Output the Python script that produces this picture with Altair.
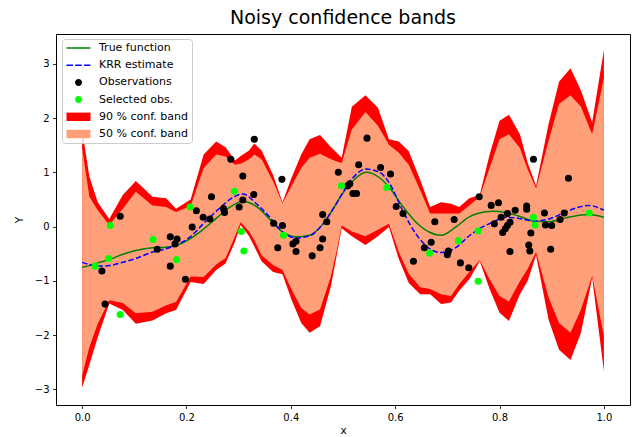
import altair as alt
import pandas as pd

# ---- true function and KRR estimate ----
line_x = [0.000, 0.014, 0.030, 0.052, 0.078, 0.103, 0.135, 0.161, 0.180, 0.206,
          0.231, 0.257, 0.282, 0.308, 0.334, 0.359, 0.384, 0.410, 0.436, 0.461,
          0.487, 0.495, 0.519, 0.544, 0.570, 0.589, 0.614, 0.640, 0.665, 0.688,
          0.716, 0.742, 0.758, 0.787, 0.812, 0.838, 0.867, 0.895, 0.927, 0.953,
          0.971, 1.000]
true_y = [-0.75, -0.72, -0.67, -0.61, -0.51, -0.44, -0.39, -0.38, -0.35, -0.23,
          -0.06, 0.15, 0.35, 0.46, 0.37, 0.14, -0.10, -0.19, -0.16, 0.04,
          0.42, 0.55, 0.84, 1.00, 0.90, 0.72, 0.38, 0.08, -0.10, -0.16,
          -0.01, 0.18, 0.24, 0.28, 0.26, 0.19, 0.10, 0.09, 0.16, 0.21,
          0.22, 0.17]
krr_y = [-0.66, -0.70, -0.73, -0.72, -0.66, -0.59, -0.47, -0.41, -0.34, -0.20,
         0.04, 0.28, 0.49, 0.60, 0.42, 0.18, -0.10, -0.21, -0.17, 0.04,
         0.42, 0.55, 0.90, 1.06, 1.00, 0.80, 0.30, -0.14, -0.40, -0.48,
         -0.39, -0.17, -0.06, 0.08, 0.17, 0.15, 0.10, 0.14, 0.27, 0.36,
         0.39, 0.30]

# ---- confidence bands ----
band_x = [0.000, 0.014, 0.030, 0.052, 0.078, 0.103, 0.135, 0.161, 0.180, 0.208,
          0.233, 0.257, 0.275, 0.293, 0.304, 0.320, 0.330, 0.344, 0.366, 0.384,
          0.401, 0.420, 0.436, 0.456, 0.477, 0.488, 0.4975, 0.517, 0.543, 0.567,
          0.588, 0.607, 0.626, 0.648, 0.667, 0.688, 0.707, 0.723, 0.742, 0.762,
          0.781, 0.800, 0.818, 0.839, 0.854, 0.870, 0.894, 0.914, 0.936, 0.956,
          0.9775, 1.000]
band90_hi = [1.79, 0.92, 0.45, 0.14, 0.58, 0.84, 0.55, 0.52, 0.33, 0.50,
             1.33, 1.57, 1.46, 1.22, 1.30, 1.40, 1.53, 1.40, 0.95, 0.45,
             0.89, 1.33, 1.61, 1.69, 1.46, 1.36, 1.27, 2.21, 2.42, 2.19,
             1.61, 1.57, 1.39, 0.86, 0.36, 0.45, 0.42, 0.36, 0.52, 0.58,
             1.33, 1.95, 2.06, 1.70, 1.17, 0.75, 1.89, 2.67, 2.92, 2.51,
             1.92, 3.26]
band50_hi = [1.45, 0.55, 0.30, 0.03, 0.33, 0.64, 0.39, 0.36, 0.27, 0.38,
             1.08, 1.33, 1.29, 1.14, 1.16, 1.24, 1.33, 1.24, 0.83, 0.43,
             0.74, 1.08, 1.27, 1.34, 1.24, 1.20, 1.17, 1.79, 2.11, 1.86,
             1.51, 1.36, 1.14, 0.67, 0.24, 0.24, 0.24, 0.24, 0.39, 0.55,
             1.08, 1.61, 1.70, 1.45, 1.05, 0.70, 1.58, 2.26, 2.42, 2.21,
             1.70, 2.74]
band50_lo = [-2.75, -2.22, -1.79, -1.36, -1.41, -1.60, -1.57, -1.45, -1.39, -0.92,
             -0.93, -0.70, -0.58, -0.18, 0.08, -0.09, -0.25, -0.53, -0.71, -0.80,
             -1.15, -1.50, -1.62, -1.53, -0.91, -0.44, 0.02, -0.09, -0.18, -0.06,
             0.05, -0.47, -0.87, -1.12, -1.15, -1.25, -1.28, -1.06, -0.84, -0.62,
             -0.97, -1.28, -1.38, -1.01, -0.78, -0.47, -1.31, -1.78, -1.96, -1.53,
             -0.91, -2.02]
band90_lo = [-2.97, -2.55, -2.04, -1.42, -1.54, -1.79, -1.73, -1.60, -1.54, -1.02,
             -1.06, -0.80, -0.68, -0.28, 0.03, -0.18, -0.37, -0.64, -0.84, -0.88,
             -1.34, -1.78, -1.96, -1.84, -1.09, -0.53, -0.03, -0.18, -0.34, -0.18,
             -0.01, -0.60, -1.04, -1.25, -1.25, -1.43, -1.40, -1.18, -0.97, -0.64,
             -1.15, -1.59, -1.74, -1.25, -1.00, -0.53, -1.72, -2.27, -2.46, -1.96,
             -0.95, -2.67]

# ---- observations ----
obs_x = [0.073, 0.169, 0.182, 0.178, 0.211, 0.219, 0.144, 0.038, 0.169, 0.198,
         0.044, 0.330, 0.285, 0.308, 0.383, 0.329, 0.248, 0.308, 0.301, 0.271,
         0.273, 0.232, 0.245, 0.367, 0.384, 0.375, 0.404, 0.410, 0.410, 0.441,
         0.456, 0.461, 0.461, 0.546, 0.491, 0.530, 0.572, 0.591, 0.513, 0.509,
         0.519, 0.526, 0.602, 0.615, 0.469, 0.676, 0.713, 0.669, 0.656, 0.702,
         0.700, 0.635, 0.725, 0.865, 0.932, 0.761, 0.784, 0.798, 0.852, 0.852,
         0.830, 0.815, 0.803, 0.886, 0.924, 0.916, 0.888, 0.900, 0.820, 0.815,
         0.811, 0.806, 0.790, 0.860, 0.856, 0.858, 0.898, 0.820, 0.741]
obs_y = [0.19, -0.19, -0.23, -0.32, -0.01, 0.29, -0.42, -0.82, -0.73, -0.97,
         -1.43, 1.61, 1.24, 0.93, 0.87, 0.59, 0.55, 0.49, 0.36, 0.33,
         0.26, 0.17, 0.14, 0.06, 0.02, -0.39, -0.32, -0.27, -0.46, -0.54,
         -0.39, -0.23, 0.22, 1.63, 1.00, 1.14, 1.09, 0.97, 0.79, 0.75,
         0.61, 0.61, 0.37, 0.24, 0.09, 0.09, 0.13, -0.29, -0.39, -0.45,
         -0.52, -0.64, -0.67, 1.24, 0.89, 0.55, 0.39, 0.44, 0.38, 0.32,
         0.30, 0.24, 0.17, 0.25, 0.25, 0.13, 0.03, 0.02, 0.08, 0.02,
         -0.04, -0.11, 0.05, -0.12, -0.34, -0.45, -0.42, -0.46, -0.76]
sel_x = [0.054, 0.136, 0.051, 0.025, 0.181, 0.073, 0.207, 0.292, 0.305, 0.310,
         0.386, 0.497, 0.584, 0.666, 0.721, 0.759, 0.865, 0.868, 0.972, 0.759]
sel_y = [0.02, -0.24, -0.59, -0.73, -0.61, -1.62, 0.36, 0.65, -0.09, -0.45,
         -0.16, 0.75, 0.72, -0.49, -0.26, -0.08, 0.17, 0.03, 0.25, -1.01]

# ---- legend ----
legend_labels = ["True function", "KRR estimate", "Observations",
                 "Selected obs.", "90 % conf. band", "50 % conf. band"]
legend_colors = ["#008000", "#0000ff", "#000000", "#00ff00", "#ff0000", "#ffa07a"]
legend_shapes = [
    "M-2.4,-0.15H2.4V0.15H-2.4Z",
    "M-2.4,-0.15H-1.1V0.15H-2.4ZM-0.65,-0.15H0.65V0.15H-0.65ZM1.1,-0.15H2.4V0.15H1.1Z",
    "M0.7,0A0.7,0.7,0,1,1,-0.7,0A0.7,0.7,0,1,1,0.7,0Z",
    "M0.7,0A0.7,0.7,0,1,1,-0.7,0A0.7,0.7,0,1,1,0.7,0Z",
    "M-2.4,-0.84H2.4V0.84H-2.4Z",
    "M-2.4,-0.84H2.4V0.84H-2.4Z",
]

line_df = pd.DataFrame({"x": line_x, "true": true_y, "krr": krr_y})
band_df = pd.DataFrame({"x": band_x, "r_hi": band90_hi, "r_lo": band90_lo,
                        "s_hi": band50_hi, "s_lo": band50_lo})
obs_df = pd.DataFrame({"x": obs_x, "y": obs_y})
sel_df = pd.DataFrame({"x": sel_x, "y": sel_y})
leg_df = pd.DataFrame({"series": legend_labels})

FONT = "DejaVu Sans"
xscale = alt.Scale(domain=[-0.05, 1.05], nice=False, zero=False)
yscale = alt.Scale(domain=[-3.29, 3.55], nice=False, zero=False)
xaxis = alt.Axis(title="x", values=[0, 0.2, 0.4, 0.6, 0.8, 1.0], format=".1f")
yaxis = alt.Axis(title="Y", values=[-3, -2, -1, 0, 1, 2, 3], format="d",
                 labelExpr="replace(datum.label, '-', '\u2212')")

X = alt.X("x:Q", scale=xscale, axis=xaxis)

bands = alt.Chart(band_df)
red = bands.mark_area(color="#ff0000", opacity=1, interpolate="linear").encode(
    x=X, y=alt.Y("r_lo:Q", scale=yscale, axis=yaxis), y2="r_hi:Q")
salmon = bands.mark_area(color="#ffa07a", opacity=1, interpolate="linear").encode(
    x=X, y=alt.Y("s_lo:Q", scale=yscale, axis=yaxis), y2="s_hi:Q")
lines = alt.Chart(line_df)
true_line = lines.mark_line(color="#008000", strokeWidth=1.5, interpolate="monotone").encode(
    x=X, y=alt.Y("true:Q", scale=yscale, axis=yaxis))
krr_line = lines.mark_line(color="#0000ff", strokeWidth=1.5, strokeDash=[5.5, 2.4],
                           interpolate="monotone").encode(
    x=X, y=alt.Y("krr:Q", scale=yscale, axis=yaxis))
obs = alt.Chart(obs_df).mark_circle(color="#000000", size=50, opacity=1).encode(
    x=X, y=alt.Y("y:Q", scale=yscale, axis=yaxis))
sel = alt.Chart(sel_df).mark_circle(color="#00ff00", size=50, opacity=1).encode(
    x=X, y=alt.Y("y:Q", scale=yscale, axis=yaxis))

legend_obj = alt.Legend(
    title=None, orient="none", direction="vertical", legendX=6, legendY=5,
    padding=3.5, symbolSize=100, symbolOffset=7.5, labelOffset=15, rowPadding=5.2,
    symbolStrokeWidth=0, symbolOpacity=1, labelFont=FONT, labelFontSize=11,
    labelColor="#000000", labelLimit=0, fillColor="rgba(255,255,255,0.8)",
    strokeColor="#cccccc", cornerRadius=3)

leg = alt.Chart(leg_df).transform_filter("false").mark_point(
    filled=True, opacity=1, size=100, strokeWidth=0).encode(
    color=alt.Color("series:N", sort=legend_labels,
                    scale=alt.Scale(domain=legend_labels, range=legend_colors),
                    legend=legend_obj),
    shape=alt.Shape("series:N", sort=legend_labels,
                    scale=alt.Scale(domain=legend_labels, range=legend_shapes),
                    legend=legend_obj),
)

chart = alt.layer(red, salmon, true_line, krr_line, obs, sel, leg).properties(
    width=574, height=371,
    title=alt.TitleParams("Noisy confidence bands", font=FONT, fontSize=19,
                          fontWeight="normal", color="#000000", anchor="middle",
                          offset=6),
    padding={"left": 56, "top": 34, "right": 10, "bottom": 32},
    autosize=alt.AutoSizeParams(type="none"),
).configure_view(
    stroke="#000000", strokeWidth=1
).configure_axis(
    grid=False, domain=False, tickColor="#000000", tickSize=3.5, tickWidth=0.8,
    labelFont=FONT, labelFontSize=10, labelColor="#000000", labelPadding=3.5,
    titleFont=FONT, titleFontSize=10.5, titleFontWeight="normal", titleColor="#000000",
    labelFlush=False
).configure_axisX(titlePadding=3).configure_axisY(titlePadding=10)

chart.save("out.html", embed_options={"renderer": "svg", "actions": False})
